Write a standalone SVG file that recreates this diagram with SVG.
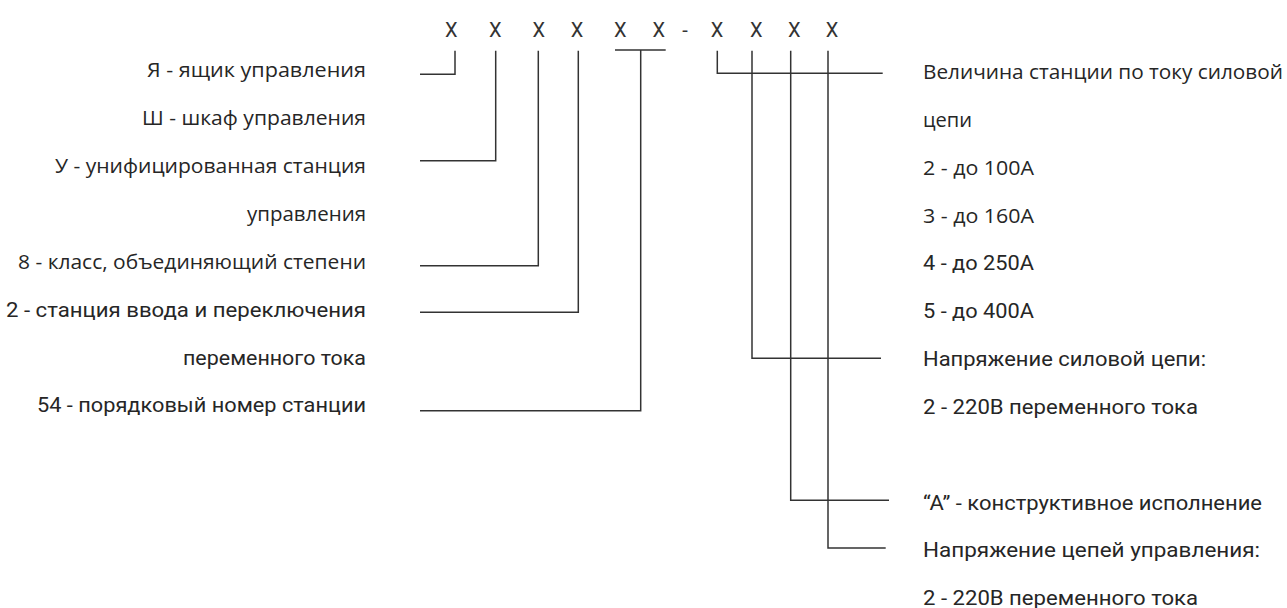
<svg xmlns="http://www.w3.org/2000/svg" width="1287" height="608" viewBox="0 0 1287 608">
<style>
.h{font-family:"Open Sans","Noto Sans","Liberation Sans",sans-serif;font-size:20px;fill:#262626}
.d{font-family:Roboto,"Liberation Sans",sans-serif;font-size:21px;fill:#262626}
.x{font-family:Roboto,"Liberation Sans",sans-serif;font-size:20px;fill:#333;text-anchor:middle}
.l{text-anchor:end}
.c{fill:none;stroke:#333;stroke-width:1.5}
</style>
<rect width="1287" height="608" fill="#fff"/>
<g id="code">
<text class="x" x="451.3" y="37">X</text>
<text class="x" x="495.3" y="37">X</text>
<text class="x" x="538.7" y="37">X</text>
<text class="x" x="577" y="37">X</text>
<text class="x" x="620.3" y="37">X</text>
<text class="x" x="658.7" y="37">X</text>
<text class="x" x="685" y="37">-</text>
<text class="x" x="717" y="37">X</text>
<text class="x" x="756.3" y="37">X</text>
<text class="x" x="794.3" y="37">X</text>
<text class="x" x="832" y="37">X</text>
</g>
<g id="connectors">
<path class="c" d="M420,74.3 H455 V50.7"/>
<path class="c" d="M420,160.7 H495.7 V50.7"/>
<path class="c" d="M420,265.7 H538.3 V50.7"/>
<path class="c" d="M420,312.3 H578.3 V50.7"/>
<path class="c" d="M615,50 H665.7 M420,410.7 H640.7 V50"/>
<path class="c" d="M717.3,50.7 V73.3 H882.7"/>
<path class="c" d="M752,50.7 V358.3 H881"/>
<path class="c" d="M790.7,50.7 V500.3 H889"/>
<path class="c" d="M828,50.7 V548 H885.7"/>
</g>
<g id="left-labels">
<text id="t-ya" class="h l" x="366" y="77.3" textLength="219" lengthAdjust="spacingAndGlyphs">Я - ящик управления</text>
<text id="t-sh" class="h l" x="366" y="125.2" textLength="224" lengthAdjust="spacingAndGlyphs">Ш - шкаф управления</text>
<text id="t-u" class="h l" x="366" y="173" textLength="311" lengthAdjust="spacingAndGlyphs">У - унифицированная станция</text>
<text id="t-u2" class="h l" x="366" y="220.9" textLength="119" lengthAdjust="spacingAndGlyphs">управления</text>
<text id="t-8" class="h l" x="366" y="268.7" textLength="348" lengthAdjust="spacingAndGlyphs">8 - класс, объединяющий степени</text>
<text id="t-2" class="d l" x="366" y="316.6" textLength="360" lengthAdjust="spacingAndGlyphs">2 - станция ввода и переключения</text>
<text id="t-2b" class="d l" x="366" y="364.5" textLength="183" lengthAdjust="spacingAndGlyphs">переменного тока</text>
<text id="t-54" class="d l" x="366" y="412.3" textLength="329" lengthAdjust="spacingAndGlyphs">54 - порядковый номер станции</text>
</g>
<g id="right-labels">
<text id="t-vel" class="h" x="923" y="79" textLength="360" lengthAdjust="spacingAndGlyphs">Величина станции по току силовой</text>
<text id="t-vel2" class="h" x="923" y="126.9" textLength="49" lengthAdjust="spacingAndGlyphs">цепи</text>
<text id="t-100" class="h" x="923" y="174.7" textLength="111" lengthAdjust="spacingAndGlyphs">2 - до 100А</text>
<text id="t-160" class="h" x="923" y="222.6" textLength="111" lengthAdjust="spacingAndGlyphs">3 - до 160А</text>
<text id="t-250" class="d" x="923" y="270.4" textLength="111" lengthAdjust="spacingAndGlyphs">4 - до 250А</text>
<text id="t-400" class="d" x="923" y="318.3" textLength="111" lengthAdjust="spacingAndGlyphs">5 - до 400А</text>
<text id="t-ns" class="d" x="923" y="366.2" textLength="283" lengthAdjust="spacingAndGlyphs">Напряжение силовой цепи:</text>
<text id="t-ns2" class="d" x="923" y="414" textLength="275" lengthAdjust="spacingAndGlyphs">2 - 220В переменного тока</text>
<text id="t-a" class="d" x="923" y="509.5" textLength="339" lengthAdjust="spacingAndGlyphs">“А” - конструктивное исполнение</text>
<text id="t-nu" class="d" x="923" y="557.3" textLength="337" lengthAdjust="spacingAndGlyphs">Напряжение цепей управления:</text>
<text id="t-nu2" class="d" x="923" y="605" textLength="275" lengthAdjust="spacingAndGlyphs">2 - 220В переменного тока</text>
</g>
</svg>
